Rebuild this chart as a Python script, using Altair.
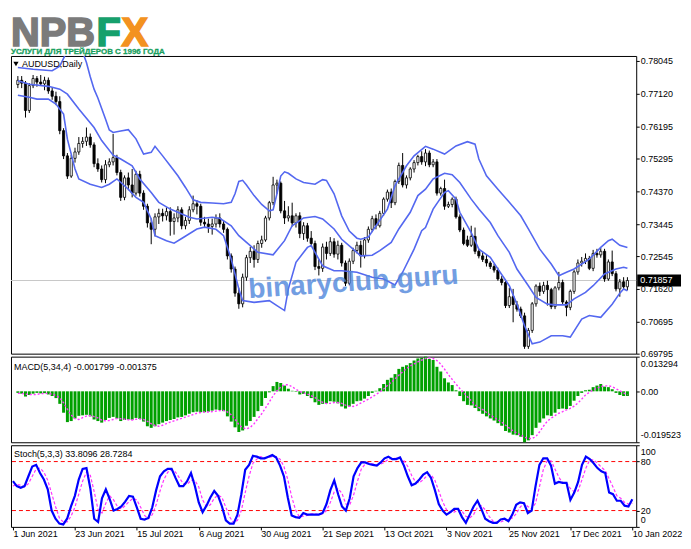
import altair as alt
import pandas as pd

# ---------------- data ----------------
tick_labels = ['1 Jun 2021', '23 Jun 2021', '15 Jul 2021', '6 Aug 2021', '30 Aug 2021',
               '21 Sep 2021', '13 Oct 2021', '3 Nov 2021', '25 Nov 2021', '17 Dec 2021', '10 Jan 2022']
tick_bars = [0, 16, 32, 48, 64, 80, 96, 112, 128, 144, 160]

price_ticks = [0.78045, 0.77120, 0.76195, 0.75295, 0.74370, 0.73445, 0.72545, 0.71620, 0.70695, 0.69795]

opens = [0.7738,0.7750,0.7742,0.7665,0.7735,0.7755,0.7745,0.7740,0.7750,0.7720,
0.7705,0.7690,0.7608,0.7537,0.7480,0.7530,0.7548,0.7572,0.7578,0.7590,
0.7568,0.7515,0.7500,0.7470,0.7512,0.7520,0.7532,0.7490,0.7420,0.7475,
0.7455,0.7432,0.7485,0.7432,0.7395,0.7348,0.7330,0.7365,0.7375,0.7368,
0.7380,0.7352,0.7362,0.7385,0.7340,0.7355,0.7385,0.7402,0.7395,0.7350,
0.7345,0.7338,0.7345,0.7362,0.7345,0.7330,0.7255,0.7218,0.7150,0.7120,
0.7195,0.7250,0.7268,0.7245,0.7290,0.7300,0.7362,0.7405,0.7455,0.7460,
0.7382,0.7362,0.7368,0.7348,0.7368,0.7318,0.7340,0.7305,0.7290,0.7225,
0.7220,0.7280,0.7262,0.7295,0.7260,0.7285,0.7235,0.7178,0.7240,0.7270,
0.7285,0.7255,0.7300,0.7330,0.7360,0.7340,0.7375,0.7415,0.7435,0.7405,
0.7465,0.7510,0.7455,0.7475,0.7500,0.7518,0.7535,0.7520,0.7545,0.7512,
0.7520,0.7432,0.7445,0.7395,0.7400,0.7415,0.7365,0.7328,0.7300,0.7285,
0.7310,0.7268,0.7255,0.7245,0.7235,0.7225,0.7215,0.7190,0.7180,0.7115,
0.7140,0.7118,0.7105,0.7086,0.7000,0.7045,0.7120,0.7170,0.7155,0.7172,
0.7160,0.7112,0.7165,0.7180,0.7125,0.7110,0.7155,0.7210,0.7235,0.7240,
0.7248,0.7220,0.7262,0.7258,0.7268,0.7190,0.7238,0.7205,0.7162,0.7182,
0.7168]
highs = [0.7762,0.7762,0.7748,0.7742,0.7765,0.7762,0.7765,0.7760,0.7758,0.7730,
0.7718,0.7705,0.7615,0.7545,0.7540,0.7560,0.7590,0.7590,0.7617,0.7600,
0.7575,0.7530,0.7510,0.7525,0.7530,0.7599,0.7540,0.7498,0.7482,0.7490,
0.7500,0.7495,0.7495,0.7440,0.7402,0.7360,0.7375,0.7388,0.7388,0.7392,
0.7392,0.7375,0.7395,0.7392,0.7365,0.7395,0.7425,0.7412,0.7402,0.7365,
0.7360,0.7360,0.7372,0.7375,0.7355,0.7335,0.7262,0.7225,0.7165,0.7205,
0.7258,0.7280,0.7285,0.7298,0.7312,0.7368,0.7410,0.7478,0.7470,0.7465,
0.7410,0.7395,0.7405,0.7375,0.7378,0.7350,0.7348,0.7325,0.7298,0.7245,
0.7290,0.7295,0.7308,0.7305,0.7298,0.7292,0.7242,0.7248,0.7278,0.7295,
0.7298,0.7308,0.7338,0.7368,0.7372,0.7382,0.7420,0.7442,0.7445,0.7470,
0.7518,0.7545,0.7482,0.7505,0.7525,0.7540,0.7550,0.7556,0.7552,0.7528,
0.7528,0.7450,0.7470,0.7408,0.7420,0.7422,0.7372,0.7335,0.7312,0.7340,
0.7335,0.7275,0.7265,0.7258,0.7240,0.7232,0.7222,0.7198,0.7188,0.7165,
0.7162,0.7128,0.7112,0.7095,0.7052,0.7125,0.7175,0.7180,0.7182,0.7185,
0.7165,0.7170,0.7210,0.7188,0.7130,0.7160,0.7215,0.7245,0.7252,0.7262,
0.7255,0.7272,0.7275,0.7278,0.7275,0.7245,0.7270,0.7212,0.7190,0.7195,
0.7195]
lows = [0.7728,0.7728,0.7645,0.7658,0.7728,0.7732,0.7735,0.7722,0.7712,0.7695,
0.7680,0.7598,0.7528,0.7472,0.7475,0.7518,0.7540,0.7560,0.7565,0.7560,
0.7505,0.7492,0.7462,0.7460,0.7505,0.7510,0.7482,0.7410,0.7412,0.7440,
0.7420,0.7425,0.7422,0.7385,0.7335,0.7288,0.7310,0.7345,0.7352,0.7355,
0.7312,0.7315,0.7350,0.7330,0.7330,0.7345,0.7378,0.7372,0.7340,0.7335,
0.7320,0.7315,0.7335,0.7335,0.7320,0.7245,0.7208,0.7140,0.7106,0.7110,
0.7185,0.7235,0.7222,0.7235,0.7278,0.7295,0.7355,0.7398,0.7430,0.7375,
0.7345,0.7352,0.7338,0.7335,0.7305,0.7300,0.7295,0.7280,0.7215,0.7200,
0.7210,0.7245,0.7255,0.7250,0.7245,0.7225,0.7170,0.7172,0.7232,0.7262,
0.7222,0.7248,0.7292,0.7322,0.7330,0.7335,0.7368,0.7408,0.7390,0.7398,
0.7458,0.7448,0.7445,0.7468,0.7490,0.7510,0.7512,0.7508,0.7505,0.7505,
0.7425,0.7425,0.7385,0.7390,0.7392,0.7360,0.7322,0.7285,0.7280,0.7280,
0.7260,0.7248,0.7238,0.7225,0.7218,0.7208,0.7185,0.7172,0.7108,0.7108,
0.7068,0.7098,0.7080,0.6993,0.6993,0.7038,0.7112,0.7142,0.7148,0.7115,
0.7105,0.7105,0.7158,0.7118,0.7085,0.7102,0.7148,0.7202,0.7225,0.7232,
0.7215,0.7212,0.7250,0.7250,0.7182,0.7185,0.7198,0.7155,0.7140,0.7160,
0.7158]
closes = [0.7750,0.7742,0.7665,0.7735,0.7755,0.7745,0.7740,0.7750,0.7720,0.7705,
0.7690,0.7608,0.7537,0.7480,0.7530,0.7548,0.7572,0.7578,0.7590,0.7568,
0.7515,0.7500,0.7470,0.7512,0.7520,0.7532,0.7490,0.7420,0.7475,0.7455,
0.7432,0.7485,0.7432,0.7395,0.7348,0.7330,0.7365,0.7375,0.7368,0.7380,
0.7352,0.7362,0.7385,0.7340,0.7355,0.7385,0.7402,0.7395,0.7350,0.7345,
0.7338,0.7345,0.7362,0.7345,0.7330,0.7255,0.7218,0.7150,0.7120,0.7195,
0.7250,0.7268,0.7245,0.7290,0.7300,0.7362,0.7405,0.7455,0.7460,0.7382,
0.7362,0.7368,0.7348,0.7368,0.7318,0.7340,0.7305,0.7290,0.7225,0.7220,
0.7280,0.7262,0.7295,0.7260,0.7285,0.7235,0.7178,0.7240,0.7270,0.7285,
0.7255,0.7300,0.7330,0.7360,0.7340,0.7375,0.7415,0.7435,0.7405,0.7465,
0.7510,0.7455,0.7475,0.7500,0.7518,0.7535,0.7520,0.7545,0.7512,0.7520,
0.7432,0.7445,0.7395,0.7400,0.7415,0.7365,0.7328,0.7290,0.7285,0.7310,
0.7268,0.7255,0.7245,0.7235,0.7225,0.7215,0.7190,0.7180,0.7115,0.7140,
0.7118,0.7105,0.7086,0.7000,0.7045,0.7120,0.7170,0.7155,0.7172,0.7160,
0.7112,0.7165,0.7180,0.7125,0.7110,0.7155,0.7210,0.7235,0.7240,0.7248,
0.7220,0.7262,0.7258,0.7268,0.7190,0.7238,0.7205,0.7162,0.7182,0.7168,
0.71857]

# Bollinger bands (bar, value)
bb_up_i = [0,4,9,11,12,13,14,15,16,17,18,19,20,21,23,24,25,27,29,31,33,35,36,38,40,42,44,46,48,51,
           54,56,57,58,59,60,62,64,66,67,68,69,70,71,73,75,78,80,81,83,85,87,89,90,92,94,97,99,102,104,
           107,109,112,115,118,120,121,123,126,129,132,134,137,140,142,144,146,150,153,155,156,158,160]
bb_up_v = [0.7786,0.7781,0.7777,0.7790,0.7812,0.7835,0.7852,0.7858,0.7850,0.7830,0.7800,0.7760,0.7725,0.7700,0.7641,0.7610,0.7603,0.7607,0.7611,0.7585,
           0.7542,0.7547,0.7564,0.7537,0.7509,0.7481,0.7448,0.7413,0.7406,0.7404,0.7402,0.7406,0.7430,0.7465,0.7468,0.7455,0.7425,0.7400,0.7382,0.7385,
           0.7430,0.7480,0.7492,0.7488,0.7472,0.7462,0.7457,0.7470,0.7468,0.7430,0.7368,0.7325,0.7305,0.7302,0.7308,0.7340,0.7387,0.7453,0.7509,0.7537,
           0.7564,0.7556,0.7542,0.7565,0.7577,0.7570,0.7528,0.7481,0.7443,0.7406,0.7368,0.7331,0.7274,0.7232,0.7199,0.7209,0.7218,0.7246,0.7279,0.7298,
           0.7302,0.7285,0.7279]
bb_mid_i = [0,3,8,11,13,16,20,22,25,27,30,32,35,37,40,42,45,47,51,53,56,58,61,63,67,70,72,75,78,80,
            83,85,88,90,93,95,98,100,103,105,107,109,112,114,116,119,121,124,126,129,131,134,136,139,141,144,146,149,151,154,
            157,159,160]
bb_mid_v = [0.7749,0.7739,0.7733,0.7725,0.7711,0.7669,0.7617,0.7580,0.7539,0.7528,0.7509,0.7472,0.7434,0.7406,0.7387,0.7378,0.7364,0.7359,0.7364,0.7361,
            0.7340,0.7312,0.7284,0.7265,0.7258,0.7298,0.7340,0.7362,0.7366,0.7359,0.7331,0.7302,0.7274,0.7255,0.7257,0.7270,0.7293,0.7331,0.7378,0.7425,
            0.7443,0.7472,0.7488,0.7484,0.7462,0.7415,0.7387,0.7349,0.7312,0.7265,0.7218,0.7171,0.7138,0.7119,0.7117,0.7117,0.7134,0.7152,0.7171,0.7204,
            0.7218,0.7223,0.7220]
bb_lo_i = [0,3,5,8,10,12,13,15,16,19,22,24,26,29,31,33,35,36,39,41,43,47,49,52,54,56,58,59,62,66,
           68,70,71,73,76,77,78,80,83,85,89,93,96,99,101,104,106,107,109,112,113,115,116,119,121,124,126,129,131,133,
           135,137,140,143,145,148,150,153,156,158,159,160]
bb_lo_v = [0.7708,0.7702,0.7697,0.7697,0.7683,0.7655,0.7584,0.7500,0.7472,0.7457,0.7448,0.7457,0.7472,0.7443,0.7420,0.7406,0.7359,0.7312,0.7298,0.7291,
           0.7304,0.7331,0.7336,0.7330,0.7312,0.7246,0.7162,0.7129,0.7124,0.7129,0.7115,0.7101,0.7162,0.7237,0.7279,0.7284,0.7265,0.7227,0.7213,0.7213,
           0.7209,0.7195,0.7190,0.7173,0.7209,0.7274,0.7326,0.7335,0.7387,0.7434,0.7439,0.7415,0.7378,0.7321,0.7274,0.7251,0.7218,0.7171,0.7119,0.7058,
           0.7007,0.7012,0.7030,0.7030,0.7026,0.7077,0.7087,0.7082,0.7119,0.7150,0.7162,0.7157]

macd_main = [-0.0006,-0.0009,-0.0020,-0.0014,-0.0009,-0.0006,-0.0008,-0.0007,-0.0012,-0.0018,
-0.0026,-0.0048,-0.0082,-0.0118,-0.0114,-0.0104,-0.0094,-0.0092,-0.0090,-0.0096,
-0.0108,-0.0114,-0.0120,-0.0110,-0.0102,-0.0098,-0.0104,-0.0114,-0.0110,-0.0108,
-0.0109,-0.0102,-0.0106,-0.0116,-0.0134,-0.0140,-0.0134,-0.0126,-0.0120,-0.0114,
-0.0110,-0.0106,-0.0100,-0.0098,-0.0092,-0.0086,-0.0080,-0.0078,-0.0080,-0.0080,
-0.0078,-0.0074,-0.0070,-0.0072,-0.0076,-0.0096,-0.0116,-0.0138,-0.0156,-0.0150,
-0.0132,-0.0114,-0.0098,-0.0076,-0.0056,-0.0026,-0.0004,0.0020,0.0036,0.0032,
0.0022,0.0010,0.0002,-0.0002,-0.0012,-0.0010,-0.0018,-0.0026,-0.0042,-0.0052,
-0.0048,-0.0046,-0.0038,-0.0040,-0.0046,-0.0058,-0.0066,-0.0058,-0.0048,-0.0038,
-0.0036,-0.0028,-0.0018,-0.0006,0.0002,0.0012,0.0028,0.0044,0.0052,0.0066,
0.0086,0.0094,0.0100,0.0108,0.0118,0.0126,0.0128,0.013294,0.0124,0.0120,
0.0094,0.0076,0.0050,0.0034,0.0024,0.0004,-0.0018,-0.0038,-0.0052,-0.0054,
-0.0064,-0.0076,-0.0086,-0.0096,-0.0104,-0.0112,-0.0122,-0.0132,-0.0152,-0.0158,
-0.0166,-0.0168,-0.0174,-0.019523,-0.0188,-0.0168,-0.0140,-0.0120,-0.0104,-0.0092,
-0.0094,-0.0082,-0.0068,-0.0066,-0.0068,-0.0056,-0.0036,-0.0018,-0.0006,0.0004,
0.0006,0.0016,0.0022,0.0028,0.0018,0.0016,0.0008,-0.0006,-0.0014,-0.0018,
-0.001799]
macd_signal = [-0.0008,-0.0008,-0.0011,-0.0012,-0.0013,-0.0012,-0.0009,-0.0008,-0.0008,-0.0011,
-0.0016,-0.0026,-0.0044,-0.0069,-0.0091,-0.0105,-0.0108,-0.0101,-0.0095,-0.0093,
-0.0097,-0.0102,-0.0110,-0.0113,-0.0112,-0.0108,-0.0104,-0.0105,-0.0107,-0.0109,
-0.0110,-0.0107,-0.0106,-0.0108,-0.0115,-0.0124,-0.0131,-0.0134,-0.0130,-0.0124,
-0.0118,-0.0113,-0.0108,-0.0104,-0.0099,-0.0094,-0.0089,-0.0084,-0.0081,-0.0079,
-0.0079,-0.0078,-0.0076,-0.0074,-0.0073,-0.0079,-0.0090,-0.0107,-0.0127,-0.0140,
-0.0144,-0.0138,-0.0124,-0.0105,-0.0086,-0.0064,-0.0041,-0.0017,0.0002,0.0016,
0.0025,0.0025,0.0017,0.0008,-0.0001,-0.0006,-0.0011,-0.0017,-0.0024,-0.0035,
-0.0042,-0.0047,-0.0046,-0.0043,-0.0043,-0.0046,-0.0053,-0.0057,-0.0058,-0.0053,
-0.0045,-0.0038,-0.0030,-0.0022,-0.0012,-0.0003,0.0009,0.0022,0.0034,0.0048,
0.0062,0.0075,0.0087,0.0097,0.0105,0.0113,0.0120,0.0126,0.0128,0.0126,
0.0118,0.0104,0.0085,0.0064,0.0046,0.0028,0.0011,-0.0005,-0.0021,-0.0036,
-0.0052,-0.0062,-0.0070,-0.0081,-0.0091,-0.0100,-0.0109,-0.0118,-0.0130,-0.0141,
-0.0152,-0.0161,-0.0167,-0.0176,-0.0181,-0.0181,-0.0173,-0.0154,-0.0133,-0.0114,
-0.0103,-0.0093,-0.0084,-0.0078,-0.0071,-0.0065,-0.0057,-0.0045,-0.0030,-0.0014,
-0.0004,0.0005,0.0012,0.0018,0.0021,0.0021,0.0018,0.0010,0.0002,-0.0006,
-0.001375]
macd_ticks = [-0.019523, 0.0, 0.013294]
macd_tick_labels = ['-0.019523', '0.00', '0.013294']

stoch_k = [56,50,48,50,62,74,76,66,58,46,
20,10,4,3,10,25,38,58,71,72,
47,10,6,35,46,34,20,22,25,31,
38,37,24,10,9,11,24,45,62,68,
71,71,60,50,50,56,66,50,30,18,
26,36,44,38,25,8,4,4,15,40,
70,76,87,86,84,84,86,88,85,75,
62,36,14,12,11,17,15,15,15,15,
17,28,45,57,40,25,20,35,62,72,
79,79,77,76,75,79,84,86,83,83,
85,75,62,51,53,58,64,67,60,45,
28,20,15,18,22,22,12,5,15,25,
32,22,10,7,5,5,9,10,7,15,
27,30,29,17,20,50,76,84,84,75,
53,55,54,54,33,42,55,76,86,83,
78,72,68,66,42,40,32,32,26,25,
33.8096]
stoch_d = [50,52,51,49,53,62,71,72,67,57,
41,25,11,6,6,13,24,40,56,67,
63,43,21,17,29,38,33,25,22,26,
31,35,33,24,14,10,15,27,44,58,
67,70,67,60,53,52,57,57,49,33,
25,27,35,39,36,24,12,5,8,20,
42,62,78,83,86,85,85,86,86,83,
74,58,37,21,12,13,14,16,16,15,
16,20,30,43,47,41,28,27,39,56,
71,77,78,77,76,77,79,83,84,84,
84,81,74,63,55,54,58,63,64,57,
44,31,21,18,18,21,19,13,11,15,
24,26,21,13,7,6,6,8,9,11,
16,24,29,25,22,29,49,70,81,81,
71,61,54,54,47,43,44,58,72,82,
82,78,73,69,59,49,38,35,30,28,
28.7284]
stoch_levels = [20, 80]
stoch_ticks = [0, 20, 80, 100]

# ---------------- layout / style ----------------
FONT = "Liberation Sans"
W = 628
H_LOGO, H_MAIN, H_MACD, H_STO = 44, 299, 86, 82
N = len(closes)
idx = list(range(N))

xsc = alt.Scale(domain=[-0.5, 161], nice=False, zero=False)
psc = alt.Scale(domain=[0.69795, 0.78186], nice=False, zero=False)
msc = alt.Scale(domain=[macd_ticks[0], macd_ticks[-1]], nice=False, zero=False)
ssc = alt.Scale(domain=[0, 100], nice=False, zero=False)

one = pd.DataFrame({"k": [0]})
ohlc = pd.DataFrame({"i": idx, "open": opens, "high": highs, "low": lows, "close": closes})
bb = pd.concat([
    pd.DataFrame({"i": bb_up_i, "v": bb_up_v, "band": "upper"}),
    pd.DataFrame({"i": bb_mid_i, "v": bb_mid_v, "band": "middle"}),
    pd.DataFrame({"i": bb_lo_i, "v": bb_lo_v, "band": "lower"}),
])
cur = pd.DataFrame({"p": [closes[-1]], "t": [f"{closes[-1]:.5f}"]})
mdf = pd.DataFrame({"i": idx, "m": macd_main, "s": macd_signal})
sdf = pd.DataFrame({"i": idx, "k": stoch_k, "d": stoch_d})
lv = pd.DataFrame({"lv": stoch_levels})

ax_common = dict(orient="right", title=None, grid=False, domain=False, tickSize=3, tickColor="black",
                 labelPadding=1, labelFont=FONT, labelFontSize=9, labelColor="black")
price_axis = alt.Axis(values=price_ticks, format=".5f", **ax_common)
macd_expr = "[" + ",".join(f"'{s}'" for s in macd_tick_labels) + "][indexof(" + \
    "[" + ",".join(str(v) for v in macd_ticks) + "], datum.value)]"
macd_axis = alt.Axis(values=macd_ticks, labelExpr=macd_expr, labelFlush=True, labelFlushOffset=-3, **ax_common)
stoch_axis = alt.Axis(values=stoch_ticks, format="d", labelFlush=True, labelFlushOffset=-2, **ax_common)
x_expr = "[" + ",".join(f"'{s}'" for s in tick_labels) + "][indexof([" + \
    ",".join(str(v) for v in tick_bars) + "], datum.value)]"
x_axis = alt.Axis(values=tick_bars, labelExpr=x_expr, orient="bottom", title=None, grid=False, domain=False,
                  tickSize=3, tickColor="black", labelAlign="left", labelPadding=0, labelFlush=False,
                  labelFont=FONT, labelFontSize=9, labelColor="black", labelOverlap=False)

X = alt.X("i:Q", scale=xsc, axis=None)

# ---- main price panel ----
price_line = alt.Chart(cur).mark_rule(color="#c8c8c8", strokeWidth=1).encode(
    y=alt.Y("p:Q", scale=psc, axis=price_axis))
wicks = alt.Chart(ohlc).mark_rule(color="black", strokeWidth=1).encode(
    x=X, y=alt.Y("low:Q", scale=psc, axis=price_axis), y2="high:Q")
bodies = alt.Chart(ohlc).mark_bar(size=2.2, stroke="black", strokeWidth=0.8).encode(
    x=X, y=alt.Y("open:Q", scale=psc, axis=price_axis), y2="close:Q",
    fill=alt.condition("datum.close >= datum.open", alt.value("white"), alt.value("black")))
bands = alt.Chart(bb).mark_line(color="#5468f0", strokeWidth=1.6, clip=True).encode(
    x=X, y=alt.Y("v:Q", scale=psc, axis=price_axis), detail="band:N")
watermark = alt.Chart(one).mark_text(text="binaryclub.guru", font=FONT, fontSize=28, fontWeight="bold",
                                     color="#4f86dc", opacity=0.8, angle=356, align="center",
                                     baseline="middle").encode(x=alt.value(344), y=alt.value(228))
box = alt.Chart(cur).mark_point(shape="M-1,-0.27L1,-0.27L1,0.27L-1,0.27Z", size=1936, filled=True,
                                color="black", opacity=1, clip=False).encode(
    x=alt.value(W + 23), y=alt.Y("p:Q", scale=psc, axis=price_axis))
box_txt = alt.Chart(cur).mark_text(color="white", align="left", baseline="middle", font=FONT,
                                   fontSize=9, clip=False).encode(
    x=alt.value(W + 4), y=alt.Y("p:Q", scale=psc, axis=price_axis), text="t:N")
tri = alt.Chart(one).mark_point(shape="triangle-down", filled=True, color="black", size=28,
                                opacity=1).encode(x=alt.value(5), y=alt.value(8))
ttl = alt.Chart(one).mark_text(text="AUDUSD,Daily", align="left", baseline="alphabetic", font=FONT,
                               fontSize=9, color="black").encode(x=alt.value(11), y=alt.value(11))
main = alt.layer(price_line, wicks, bodies, bands, watermark, box, box_txt, tri, ttl).properties(
    width=W, height=H_MAIN)

# ---- MACD panel ----
hist = alt.Chart(mdf).mark_bar(size=3, color="#00a000").encode(
    x=X, y=alt.Y("m:Q", scale=msc, axis=macd_axis), y2=alt.Y2(datum=0))
sig = alt.Chart(mdf).mark_line(color="#ff33ff", strokeDash=[2, 2], strokeWidth=1.4).encode(
    x=X, y=alt.Y("s:Q", scale=msc, axis=macd_axis))
mttl = alt.Chart(one).mark_text(text="MACD(5,34,4) -0.001799 -0.001375", align="left",
                                baseline="alphabetic", font=FONT, fontSize=9, color="black").encode(
    x=alt.value(3), y=alt.value(13))
macd = alt.layer(hist, sig, mttl).properties(width=W, height=H_MACD)

# ---- Stochastic panel ----
XS = alt.X("i:Q", scale=xsc, axis=x_axis)
lvl = alt.Chart(lv).mark_rule(color="#ff0000", strokeDash=[4, 3], strokeWidth=1).encode(
    y=alt.Y("lv:Q", scale=ssc, axis=stoch_axis))
dline = alt.Chart(sdf).mark_line(color="#ff33ff", strokeDash=[3, 2], strokeWidth=1.2).encode(
    x=XS, y=alt.Y("d:Q", scale=ssc, axis=stoch_axis))
kline = alt.Chart(sdf).mark_line(color="#0000ff", strokeWidth=2.2).encode(
    x=XS, y=alt.Y("k:Q", scale=ssc, axis=stoch_axis))
sttl = alt.Chart(one).mark_text(text="Stoch(5,3,3) 33.8096 28.7284", align="left",
                                baseline="alphabetic", font=FONT, fontSize=9, color="black").encode(
    x=alt.value(3), y=alt.value(12))
stoch = alt.layer(lvl, dline, kline, sttl).properties(width=W, height=H_STO)

# ---- logo ----
LOGO_FS = 40
def logo_text(txt, col, x):
    return alt.Chart(one).mark_text(text=txt, color=col, stroke=col, strokeWidth=1.6, font=FONT,
                                    fontSize=LOGO_FS, fontWeight="bold", align="left",
                                    baseline="alphabetic").encode(x=alt.value(x), y=alt.value(36.5))

npb = logo_text("NPB", "#7b7b7b", 0)
f_ = logo_text("F", "#16a06c", 86)
x_ = logo_text("X", "#f39220", 111)
sub = alt.Chart(one).mark_text(text="УСЛУГИ ДЛЯ ТРЕЙДЕРОВ С 1996 ГОДА", font=FONT,
                               fontSize=8, fontWeight="bold", color="#18a05e", stroke="#18a05e",
                               strokeWidth=0.3, align="left",
                               baseline="alphabetic").encode(x=alt.value(0), y=alt.value(45))
logo = alt.layer(npb, f_, x_, sub).properties(width=W, height=H_LOGO,
                                             view=alt.ViewBackground(strokeOpacity=0))

chart = alt.vconcat(logo, main, macd, stoch, spacing=3, bounds="flush").properties(
    padding=0, background="white"
).configure(font=FONT).configure_view(stroke="black", strokeWidth=1)

chart.save("out.html", embed_options={"renderer": "svg", "actions": False})
